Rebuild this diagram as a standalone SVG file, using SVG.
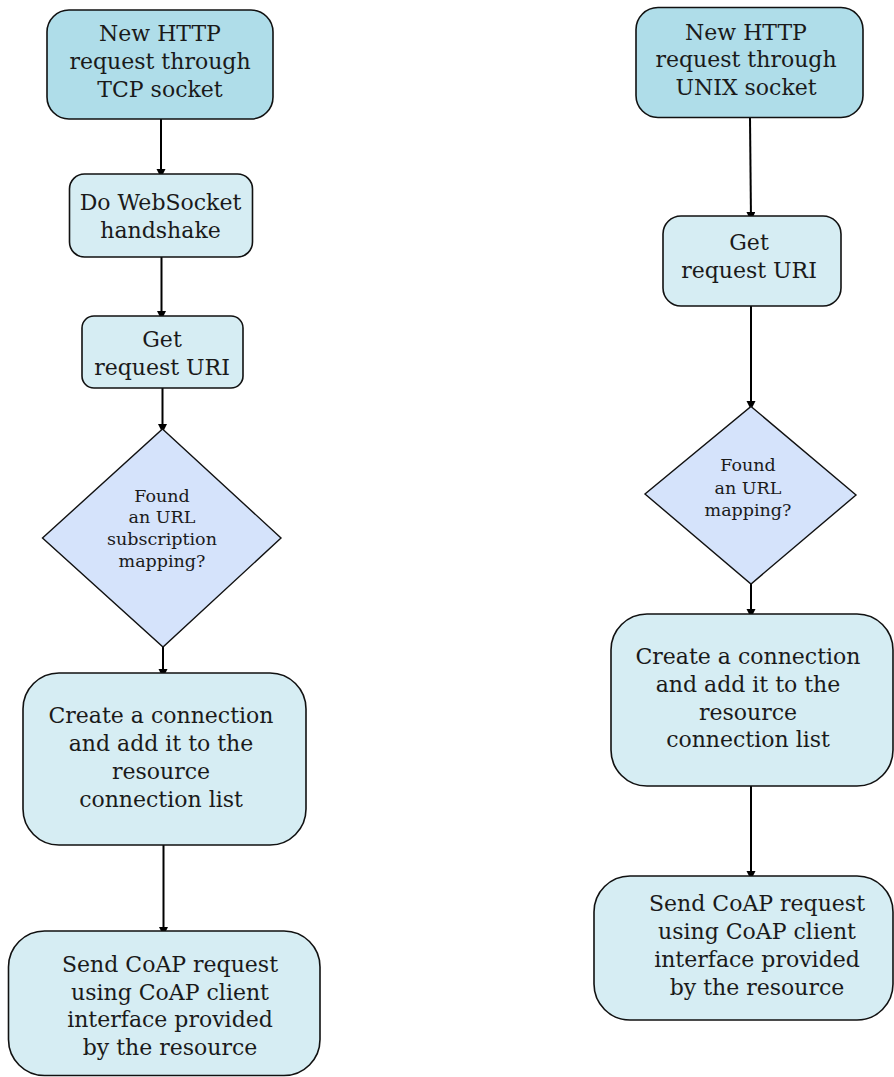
<svg xmlns="http://www.w3.org/2000/svg" width="894" height="1077" viewBox="0 0 894 1077">
  <style>
    .box { stroke: #111; stroke-width: 1.6; }
    .start { fill: #AFDDE9; }
    .step { fill: #D6EDF3; }
    .decision { fill: #D5E3FB; stroke: #111; stroke-width: 1.4; }
    .lbl { font-family: "DejaVu Serif", "Liberation Serif", serif; font-size: 22px; fill: #1a1a1a; text-anchor: middle; }
    .small { font-size: 17.5px; }
    .edge { stroke: #000; stroke-width: 2; fill: none; marker-end: url(#arrow); }
  </style>
  <defs>
    <marker id="arrow" markerUnits="userSpaceOnUse" markerWidth="10" markerHeight="10" refX="9" refY="4.5" orient="auto">
      <path d="M0,0 L9,4.5 L0,9 z" fill="#000"/>
    </marker>
  </defs>

  <rect width="894" height="1077" fill="#fff"/>

  <!-- connectors -->
  <g id="connectors">
    <path class="edge" d="M161,119 L161,178"/>
    <path class="edge" d="M161.5,257 L161.5,320"/>
    <path class="edge" d="M162.5,388 L162.5,433"/>
    <path class="edge" d="M163,647 L163,678"/>
    <path class="edge" d="M163.5,845 L163.5,936"/>
    <path class="edge" d="M750,117 L751,221"/>
    <path class="edge" d="M751,306 L751,410"/>
    <path class="edge" d="M751,584 L751,618"/>
    <path class="edge" d="M751,786 L751,880"/>
  </g>

  <!-- TCP flow -->
  <g id="tcp-new-request">
    <rect class="box start" x="47" y="10" width="226" height="109" rx="22"/>
    <text class="lbl" x="160" y="41">New HTTP</text>
    <text class="lbl" x="160" y="68.5">request through</text>
    <text class="lbl" x="160" y="96.5">TCP socket</text>
  </g>
  <g id="tcp-handshake">
    <rect class="box step" x="69.5" y="174" width="183" height="83" rx="15"/>
    <text class="lbl" x="160.5" y="210">Do WebSocket</text>
    <text class="lbl" x="160.5" y="237.5">handshake</text>
  </g>
  <g id="tcp-get-uri">
    <rect class="box step" x="82" y="316" width="161" height="72" rx="12"/>
    <text class="lbl" x="162" y="347">Get</text>
    <text class="lbl" x="162" y="375">request URI</text>
  </g>
  <g id="tcp-mapping">
    <polygon class="decision" points="162.5,429 281,538 163,647 42.5,538"/>
    <text class="lbl small" x="162" y="501.5">Found</text>
    <text class="lbl small" x="162" y="523">an URL</text>
    <text class="lbl small" x="162" y="545">subscription</text>
    <text class="lbl small" x="162" y="567">mapping?</text>
  </g>
  <g id="tcp-connection">
    <rect class="box step" x="23" y="673" width="283" height="172" rx="36"/>
    <text class="lbl" x="161" y="723">Create a connection</text>
    <text class="lbl" x="161" y="751">and add it to the</text>
    <text class="lbl" x="161" y="779">resource</text>
    <text class="lbl" x="161" y="807">connection list</text>
  </g>
  <g id="tcp-coap">
    <rect class="box step" x="8.5" y="931" width="311.5" height="144.5" rx="36"/>
    <text class="lbl" x="170" y="972">Send CoAP request</text>
    <text class="lbl" x="170" y="999.5">using CoAP client</text>
    <text class="lbl" x="170" y="1027">interface provided</text>
    <text class="lbl" x="170" y="1055">by the resource</text>
  </g>

  <!-- UNIX socket flow -->
  <g id="unix-new-request">
    <rect class="box start" x="636" y="7.5" width="227" height="110" rx="22"/>
    <text class="lbl" x="746" y="39.5">New HTTP</text>
    <text class="lbl" x="746" y="67">request through</text>
    <text class="lbl" x="746" y="95">UNIX socket</text>
  </g>
  <g id="unix-get-uri">
    <rect class="box step" x="663" y="216" width="178" height="90" rx="18"/>
    <text class="lbl" x="749" y="250">Get</text>
    <text class="lbl" x="749" y="277.5">request URI</text>
  </g>
  <g id="unix-mapping">
    <polygon class="decision" points="751,406.5 856,495 751,584 645,494"/>
    <text class="lbl small" x="748" y="471">Found</text>
    <text class="lbl small" x="748" y="493.5">an URL</text>
    <text class="lbl small" x="748" y="516">mapping?</text>
  </g>
  <g id="unix-connection">
    <rect class="box step" x="611" y="614" width="282" height="172" rx="36"/>
    <text class="lbl" x="748" y="663.5">Create a connection</text>
    <text class="lbl" x="748" y="691.5">and add it to the</text>
    <text class="lbl" x="748" y="719.5">resource</text>
    <text class="lbl" x="748" y="747">connection list</text>
  </g>
  <g id="unix-coap">
    <rect class="box step" x="594" y="876" width="299" height="144" rx="36"/>
    <text class="lbl" x="757" y="911">Send CoAP request</text>
    <text class="lbl" x="757" y="939">using CoAP client</text>
    <text class="lbl" x="757" y="967">interface provided</text>
    <text class="lbl" x="757" y="995">by the resource</text>
  </g>
</svg>
